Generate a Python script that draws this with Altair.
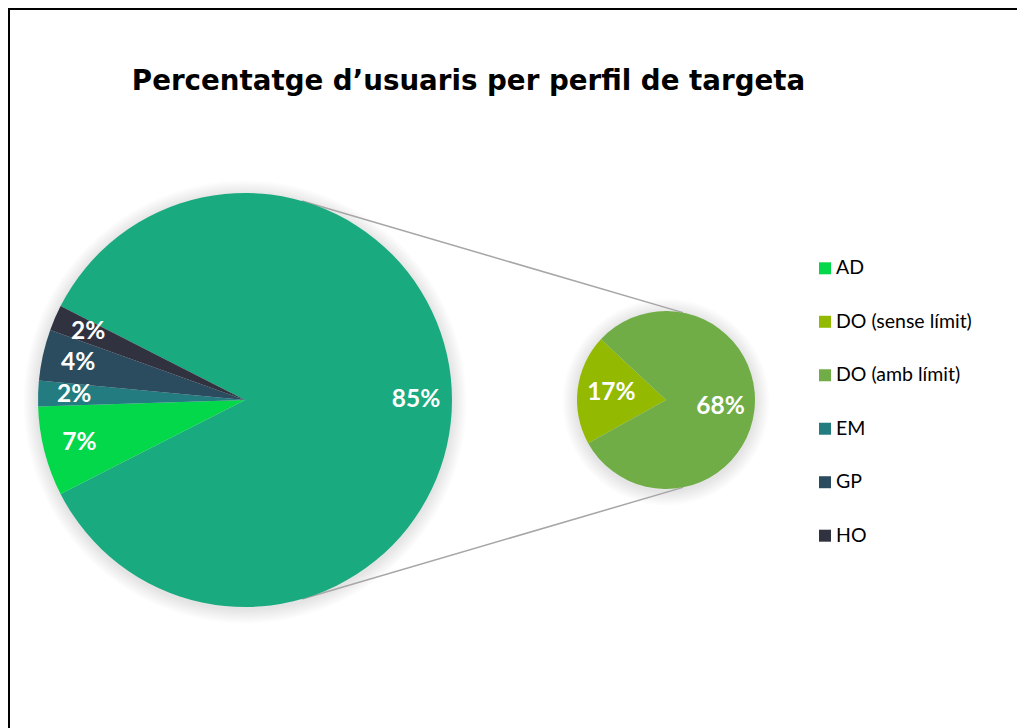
import math
import altair as alt
import pandas as pd

# ---------------- data ----------------
TITLE = "Percentatge d’usuaris per perfil de targeta"

MAIN_CATS = ["DO", "AD", "EM", "GP", "HO"]
MAIN_VALUES = [85, 7, 2, 4, 2]
MAIN_LABELS = ["85%", "7%", "2%", "4%", "2%"]

SEC_CATS = ["DO (sense límit)", "DO (amb límit)"]
SEC_VALUES = [17, 68]
SEC_LABELS = ["17%", "68%"]

LEGEND_CATS = ["AD", "DO (sense límit)", "DO (amb límit)", "EM", "GP", "HO"]

COLOR_DOMAIN = ["DO", "AD", "DO (sense límit)", "DO (amb límit)", "EM", "GP", "HO"]
COLOR_RANGE = ["#1AAA7F", "#02D84A", "#93B901", "#70AD47", "#237C80", "#2B4C5E", "#30333F"]

# ---------------- layout ----------------
W, H = 1009, 730
MX, MY, MR = 237, 392, 207          # main pie centre / radius
SX, SY, SR = 658, 392, 89           # secondary pie centre / radius
MAIN_START = -63                    # degrees, clockwise from 12 o'clock
SEC_START = 241

color_scale = alt.Scale(domain=COLOR_DOMAIN, range=COLOR_RANGE)

main_df = pd.DataFrame({"cat": MAIN_CATS, "value": MAIN_VALUES,
                        "label": MAIN_LABELS, "ord": list(range(len(MAIN_CATS)))})
sec_df = pd.DataFrame({"cat": SEC_CATS, "value": SEC_VALUES,
                       "label": SEC_LABELS, "ord": list(range(len(SEC_CATS)))})
leg_df = pd.DataFrame({"cat": LEGEND_CATS})
one = pd.DataFrame({"a": [0]})


def pie(df, cx, cy, r, start_deg, total, label_r):
    base = alt.Chart(df).encode(
        theta=alt.Theta("value:Q", stack=True,
                        scale=alt.Scale(domain=[0, total],
                                        range=[math.radians(start_deg),
                                               math.radians(start_deg + 360)])),
        order=alt.Order("ord:Q"),
        detail="cat:N",
        x=alt.value(cx), y=alt.value(cy),
    )
    arc = base.mark_arc(radius=r).encode(
        color=alt.Color("cat:N", scale=color_scale, legend=None))
    txt = base.mark_text(radius=label_r, font="Lato", fontSize=24.5,
                         fontWeight="bold", baseline="middle", align="center").encode(
        text="label:N", color=alt.value("white"))
    return alt.layer(arc, txt)


def shadow(cx, cy, r):
    layers = []
    for k in range(1, 10):
        layers.append(
            alt.Chart(one).mark_arc(radius=r + 1.6 * k, theta=0, theta2=2 * math.pi,
                                    color="black", opacity=0.012)
            .encode(x=alt.value(cx), y=alt.value(cy + 2))
        )
    return layers


# connector lines (from main pie edge to secondary pie edge)
def polar(cx, cy, r, deg):
    a = math.radians(deg)
    return cx + r * math.sin(a), cy - r * math.cos(a)

p1 = polar(MX, MY, MR, 16)
p2 = polar(SX, SY, SR, 11)
p3 = polar(MX, MY, MR, 164)
p4 = polar(SX, SY, SR, 169)

line_top = alt.Chart(one).mark_rule(color="#A6A6A6", strokeWidth=1.5).encode(
    x=alt.value(p1[0]), y=alt.value(p1[1]), x2=alt.value(p2[0]), y2=alt.value(p2[1]))
line_bot = alt.Chart(one).mark_rule(color="#A6A6A6", strokeWidth=1.5).encode(
    x=alt.value(p3[0]), y=alt.value(p3[1]), x2=alt.value(p4[0]), y2=alt.value(p4[1]))

# frame: only the left and top edges are visible in the picture
frame_left = alt.Chart(one).mark_rule(color="black", strokeWidth=2).encode(
    x=alt.value(1), y=alt.value(0), y2=alt.value(H))
frame_top = alt.Chart(one).mark_rule(color="black", strokeWidth=2).encode(
    x=alt.value(0), x2=alt.value(W), y=alt.value(1))

# title
title = alt.Chart(one).mark_text(font="DejaVu Sans", fontSize=27.7, fontWeight="bold",
                                 align="center", baseline="alphabetic", color="black").encode(
    x=alt.value(460.5), y=alt.value(81.5), text=alt.value(TITLE))

# legend
leg_y = alt.Y("cat:N", scale=alt.Scale(type="point", domain=LEGEND_CATS,
                                        range=[260.3, 527.7], padding=0), axis=None)
leg_sq = alt.Chart(leg_df).mark_square(size=144, opacity=1).encode(
    x=alt.value(817), y=leg_y,
    color=alt.Color("cat:N", scale=color_scale, legend=None))
leg_txt = alt.Chart(leg_df).mark_text(font="Lato", fontSize=19.5, align="left",
                                      baseline="middle", color="#000000").encode(
    x=alt.value(828), y=leg_y, text="cat:N")

chart = alt.layer(
    *shadow(MX, MY, MR), *shadow(SX, SY, SR),
    line_top, line_bot,
    pie(main_df, MX, MY, MR, MAIN_START, 100, 171),
    pie(sec_df, SX, SY, SR, SEC_START, 85, 55),
    leg_sq, leg_txt, title,
    frame_left, frame_top,
).resolve_scale(theta="independent").properties(
    width=W, height=H, padding=0, autosize=alt.AutoSizeParams(type="none"),
    background="white",
).configure_view(strokeWidth=0, strokeOpacity=0, stroke="white")

chart.save("out.html", embed_options={"renderer": "svg", "actions": False})
